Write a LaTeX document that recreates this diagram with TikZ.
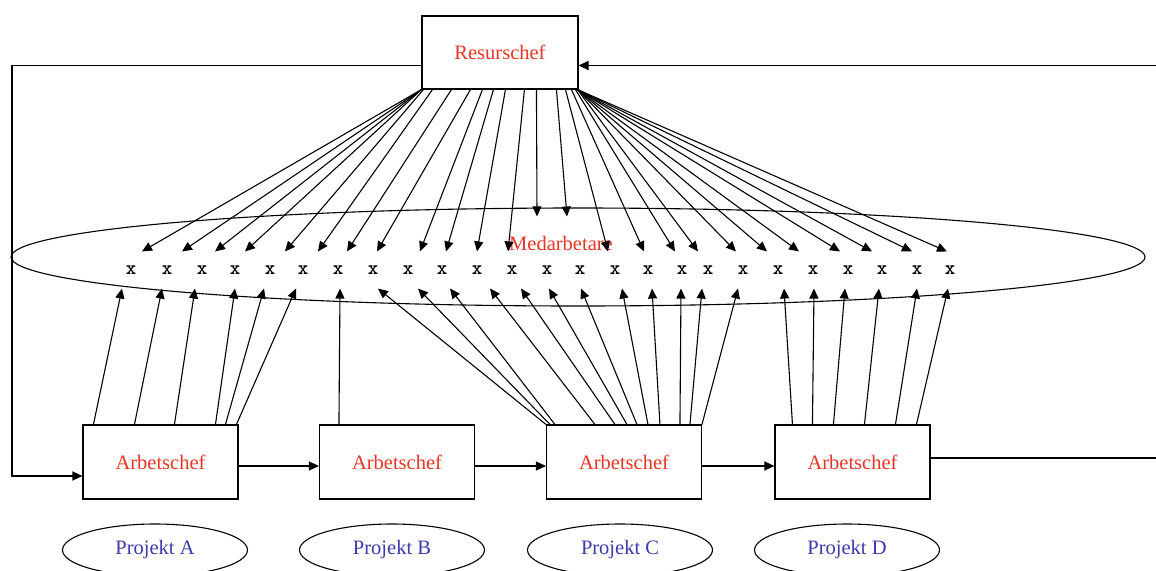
\documentclass[tikz,border=0pt]{standalone}
\usepackage{fontspec}
\setmainfont{Liberation Serif}
\usetikzlibrary{shapes.geometric,arrows.meta}
\definecolor{chefred}{RGB}{232,52,36}
\definecolor{projblue}{RGB}{58,58,170}

\begin{document}
\begin{tikzpicture}[
    x=1pt, y=-1pt,
    line width=1.1pt,
    box/.style={draw, rectangle, minimum width=155pt, minimum height=74pt, inner sep=0pt, text=chefred, font=\fontsize{20.5}{24}\selectfont},
    proj/.style={draw, ellipse, minimum width=185pt, minimum height=52pt, inner sep=0pt, text=projblue, font=\fontsize{20.5}{24}\selectfont},
    member/.style={inner sep=0pt, minimum height=36pt, minimum width=12pt, font=\ttfamily\bfseries\fontsize{20}{22}\selectfont},
    arr/.style={-{Triangle[length=10pt,width=9pt]}}
]
    \useasboundingbox (0,0) rectangle (1156,570);

    % staff pool
    \node[draw, ellipse, minimum width=1134pt, minimum height=98pt] (staff) at (578,257) {};
    \node[text=chefred, inner sep=0pt, font=\fontsize{20.5}{24}\selectfont] (stafflabel) at (561,243) {Medarbetare};

    \node[box, minimum width=156pt, minimum height=73pt] (res) at (500,52.5) {Resurschef};

    \node[box] (arbA) at (160.5,462) {Arbetschef};
    \node[box] (arbB) at (397,462) {Arbetschef};
    \node[box] (arbC) at (624,462) {Arbetschef};
    \node[box] (arbD) at (852.5,462) {Arbetschef};

    \node[proj] (projA) at (155,550) {Projekt A};
    \node[proj] (projB) at (392,550) {Projekt B};
    \node[proj] (projC) at (620,550) {Projekt C};
    \node[proj] (projD) at (847,550) {Projekt D};

    \foreach \i/\x in {1/131,2/167,3/202,4/235,5/270,6/303,7/338,8/373,9/408,10/442,11/477,12/512,13/547,
                       14/580,15/615,16/648,17/682,18/708,19/743,20/778,21/813,22/848,23/882,24/917,25/950} {
        \node[member] (m\i) at (\x,270) {x};
    }

    % Resurschef to every member
    \foreach \i/\s/\t/\u in {1/0/11/0,2/0/15/0,3/0/13/0,4/0/10/0,5/2/15/0,6/11/15/0,7/30/9/0,8/49/4/0,
                             9/61/12/0,10/72/4/0,11/84/0/0,12/103/-4/0,13/115/-10/35,14/135/-13/35,
                             15/144/-7/0,16/150/-4/0,17/154/-7/0,18/156/-10/0,19/156/-7/0,20/156/-11/0,
                             21/156/-14/0,22/156/-8/0,23/156/-10/0,24/156/-5/0,25/156/-3/0} {
        \draw[arr] ([xshift=\s pt]res.south west) -- ([xshift=\t pt,yshift=\u pt]m\i.north);
    }

    % Arbetschefs to their members
    \foreach \i/\s/\t in {1/11/-9,2/52/-5,3/92/-7,4/133/0,5/143/-6,6/154/-7} {
        \draw[arr] ([xshift=\s pt]arbA.north west) -- ([xshift=\t pt]m\i.south);
    }
    \draw[arr] ([xshift=20pt]arbB.north west) -- ([xshift=2pt]m7.south);
    \foreach \i/\s/\t in {8/0/5,9/4/10,10/9/8,11/49/13,12/69/9,13/81/2,14/91/1,15/102/7,16/114/4,
                          17/134/-1,18/144/-6,19/156/-5} {
        \draw[arr] ([xshift=\s pt]arbC.north west) -- ([xshift=\t pt]m\i.south);
    }
    \foreach \i/\s/\t in {20/18/6,21/38/1,22/59/-3,23/90/-3,24/121/0,25/142/-2} {
        \draw[arr] ([xshift=\s pt]arbD.north west) -- ([xshift=\t pt]m\i.south);
    }

    % chain and feedback
    \draw[arr] ([yshift=-4pt]arbA.east) -- ([yshift=-4pt]arbB.west);
    \draw[arr] ([yshift=-4pt]arbB.east) -- ([yshift=-4pt]arbC.west);
    \draw[arr] ([yshift=-4pt]arbC.east) -- ([yshift=-4pt]arbD.west);

    \coordinate (fbleft) at (12,270);
    \coordinate (fbright) at (1162,270);
    \draw[arr] ([yshift=-13pt]res.west) -| (fbleft) |- ([yshift=-14pt]arbA.west);
    \draw[arr] ([yshift=4pt]arbD.east) -| (fbright) |- ([yshift=-13pt]res.east);
\end{tikzpicture}
\end{document}
